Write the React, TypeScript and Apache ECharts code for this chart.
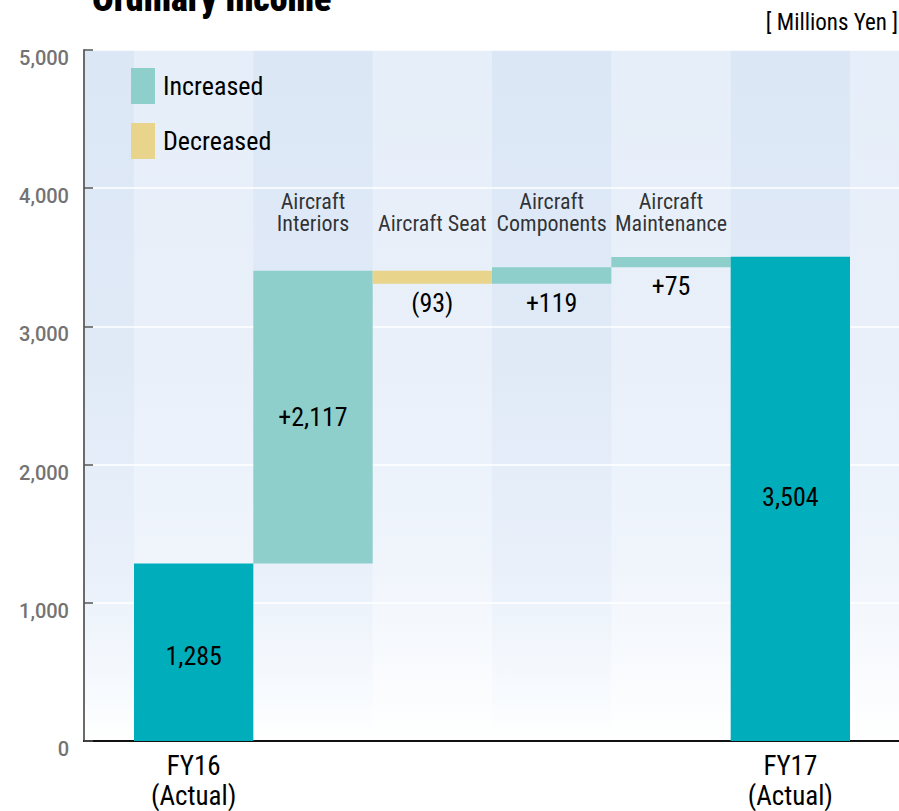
import React, { useEffect, useRef } from "react";
import * as echarts from "echarts";

// ---- data ----
const categories = [
  "FY16\n(Actual)",
  "Aircraft\nInteriors",
  "Aircraft Seat",
  "Aircraft\nComponents",
  "Aircraft\nMaintenance",
  "FY17\n(Actual)",
];
const startValue = 1285;
const deltas = [2117, -93, 119, 75];
const endValue = 3504;
const yTicks = [0, 1000, 2000, 3000, 4000, 5000];
const legendNames = ["Increased", "Decreased"];
const unitLabel = "[ Millions Yen ]";
const titleText = "Ordinary Income";

// ---- layout / style ----
const W = 899;
const H = 811;
const PLOT_LEFT = 84;
const PLOT_RIGHT_EDGE = 899;
const BAR_LEFT = 134;
const BAR_RIGHT_EDGE = 850;
const PLOT_TOP = 50;
const PLOT_BOTTOM = 741;
const NAME_LABEL_Y = 3665;
const FONT = "'Roboto Condensed', 'Liberation Sans Narrow', Roboto, sans-serif";
const COND = "normal condensed";
const C_TOTAL = "#00AEBB";
const C_INC = "#8FCFCB";
const C_DEC = "#E8D48A";

export default function App() {
  const ref = useRef<HTMLDivElement>(null);
  useEffect(() => {
    document.body.style.margin = "0";
    if (!ref.current) return;
    const chart = echarts.init(ref.current, undefined, { renderer: "svg" });

    const n = categories.length;
    const bw = (BAR_RIGHT_EDGE - BAR_LEFT) / n;
    const xMin = -0.5 - (BAR_LEFT - PLOT_LEFT) / bw;
    const xMax = n - 0.5 + (PLOT_RIGHT_EDGE - BAR_RIGHT_EDGE) / bw;

    const base: any[] = [];
    const inc: any[] = [];
    const dec: any[] = [];
    const tot: any[] = [];
    let run = startValue;
    base.push(0); inc.push("-"); dec.push("-"); tot.push(startValue);
    deltas.forEach((d) => {
      const next = run + d;
      base.push(Math.min(run, next));
      if (d >= 0) { inc.push(d); dec.push("-"); } else { inc.push("-"); dec.push(-d); }
      tot.push("-");
      run = next;
    });
    base.push(0); inc.push("-"); dec.push("-"); tot.push(endValue);

    const incData = inc.map((v) =>
      v === "-" ? "-" : { value: v, label: { position: v > 1000 ? "inside" : "bottom" } }
    );
    const totData = tot.map((v, i) =>
      v === "-" ? "-" : { value: v, label: { offset: [0, i === 0 ? 4 : -2] } }
    );

    const isTotal = (i: number) => i === 0 || i === n - 1;
    const nameLabels = categories
      .map((c, i) => ({ c, i }))
      .filter((o) => !isTotal(o.i))
      .map((o) => ({ value: [o.i, NAME_LABEL_Y], name: o.c }));

    const stripeColor = new echarts.graphic.LinearGradient(0, 0, 0, 1, [
      { offset: 0, color: "#DCE7F6" },
      { offset: 0.45, color: "#E0EAF7" },
      { offset: 0.75, color: "#E9F0FA" },
      { offset: 0.94, color: "#F8FBFE" },
      { offset: 1, color: "#FFFFFF" },
    ]);
    const stripes: number[][] = [];
    for (let s = -1; s < n; s += 2) stripes.push([s === -1 ? xMin : s - 0.5, s + 0.5]);

    const valueLabel = {
      show: true,
      distance: 6,
      fontFamily: FONT,
      fontWeight: COND,
      fontSize: 26,
      color: "#000",
    };

    const option: any = {
      animation: false,
      title: [
        {
          text: titleText,
          left: 92,
          top: -19,
          padding: 0,
          textStyle: { fontFamily: "'Roboto Condensed', Roboto, sans-serif", fontSize: 36, fontWeight: 900, color: "#000" },
        },
        {
          text: unitLabel,
          right: 1,
          top: 11,
          padding: 0,
          textStyle: { fontFamily: FONT, fontSize: 23, fontWeight: COND, color: "#000" },
        },
      ],
      legend: {
        data: legendNames,
        orient: "vertical",
        left: 131,
        top: 68,
        padding: 0,
        itemWidth: 24,
        itemHeight: 36,
        itemGap: 19,
        icon: "rect",
        selectedMode: false,
        textStyle: { fontFamily: FONT, fontWeight: COND, fontSize: 26, color: "#000", padding: [2, 0, 0, 3] },
      },
      grid: [
        {
          left: PLOT_LEFT,
          right: W - PLOT_RIGHT_EDGE,
          top: PLOT_TOP,
          bottom: H - PLOT_BOTTOM,
          show: true,
          borderWidth: 0,
          backgroundColor: new echarts.graphic.LinearGradient(0, 0, 0, 1, [
            { offset: 0, color: "#E6EEF9" },
            { offset: 0.45, color: "#E9F0FA" },
            { offset: 0.75, color: "#F0F5FC" },
            { offset: 1, color: "#FFFFFF" },
          ]),
        },
        { left: BAR_LEFT, right: W - BAR_RIGHT_EDGE, top: PLOT_TOP, bottom: H - PLOT_BOTTOM },
      ],
      xAxis: [
        {
          type: "value",
          gridIndex: 0,
          min: xMin,
          max: xMax,
          z: 2,
          axisLine: { show: true, onZero: false, lineStyle: { color: "#111", width: 2 } },
          axisTick: { show: false },
          axisLabel: { show: false },
          splitLine: { show: false },
        },
        {
          type: "category",
          gridIndex: 1,
          data: categories,
          axisLine: { show: false },
          axisTick: { show: false },
          splitLine: { show: false },
          axisLabel: {
            interval: 0,
            margin: 10,
            formatter: (v: string, i: number) => (isTotal(i) ? v : ""),
            fontFamily: FONT,
            fontWeight: COND,
            fontSize: 27,
            lineHeight: 30,
            color: "#000",
          },
        },
      ],
      yAxis: [
        {
          type: "value",
          gridIndex: 0,
          min: yTicks[0],
          max: yTicks[yTicks.length - 1],
          interval: yTicks[1] - yTicks[0],
          z: 2,
          axisLine: { show: true, onZero: false, lineStyle: { color: "#6b6b6b", width: 2 } },
          axisTick: { show: true, inside: true, length: 9, lineStyle: { color: "#555", width: 1.5 } },
          splitLine: { show: true, lineStyle: { color: "#FFFFFF", width: 1.5 } },
          axisLabel: {
            margin: 15,
            fontFamily: "Roboto, sans-serif",
            fontWeight: 500,
            fontSize: 20,
            lineHeight: 20,
            verticalAlign: "top",
            padding: [-2, 0, 0, 0],
            color: "#737373",
            formatter: (v: number) => v.toLocaleString("en-US"),
          },
        },
        {
          type: "value",
          gridIndex: 1,
          min: yTicks[0],
          max: yTicks[yTicks.length - 1],
          show: false,
          splitLine: { show: false },
        },
      ],
      series: [
        {
          type: "line",
          name: "bg",
          xAxisIndex: 0,
          yAxisIndex: 0,
          data: [],
          silent: true,
          markArea: {
            silent: true,
            z: 1,
            itemStyle: { color: stripeColor, borderWidth: 0 },
            data: stripes.map((s) => [
              { xAxis: s[0], yAxis: yTicks[yTicks.length - 1] },
              { xAxis: s[1], yAxis: yTicks[0] },
            ]),
          },
        },
        {
          type: "bar",
          name: "base",
          xAxisIndex: 1,
          yAxisIndex: 1,
          stack: "wf",
          barWidth: "100%",
          z: 3,
          silent: true,
          itemStyle: { color: "transparent" },
          data: base,
        },
        {
          type: "bar",
          name: "Increased",
          xAxisIndex: 1,
          yAxisIndex: 1,
          stack: "wf",
          barWidth: "100%",
          z: 3,
          itemStyle: { color: C_INC },
          label: {
            ...valueLabel,
            formatter: (p: any) => "+" + Number(p.value).toLocaleString("en-US"),
          },
          data: incData,
        },
        {
          type: "bar",
          name: "Decreased",
          xAxisIndex: 1,
          yAxisIndex: 1,
          stack: "wf",
          barWidth: "100%",
          z: 3,
          itemStyle: { color: C_DEC },
          label: {
            ...valueLabel,
            position: "bottom",
            formatter: (p: any) => "(" + Number(p.value).toLocaleString("en-US") + ")",
          },
          data: dec,
        },
        {
          type: "bar",
          name: "Total",
          xAxisIndex: 1,
          yAxisIndex: 1,
          stack: "wf",
          barWidth: "100%",
          z: 3,
          itemStyle: { color: C_TOTAL },
          label: {
            ...valueLabel,
            position: "inside",
            formatter: (p: any) => Number(p.value).toLocaleString("en-US"),
          },
          data: totData,
        },
        {
          type: "scatter",
          name: "names",
          xAxisIndex: 1,
          yAxisIndex: 1,
          symbolSize: 0,
          z: 4,
          silent: true,
          label: {
            show: true,
            position: "top",
            distance: 0,
            fontFamily: FONT,
            fontWeight: COND,
            fontSize: 22,
            lineHeight: 22,
            color: "#000",
            align: "center",
            formatter: (p: any) => p.name,
          },
          data: nameLabels,
        },
      ],
    };
    chart.setOption(option);
    return () => chart.dispose();
  }, []);
  return <div ref={ref} style={{ width: W, height: H }} />;
}
